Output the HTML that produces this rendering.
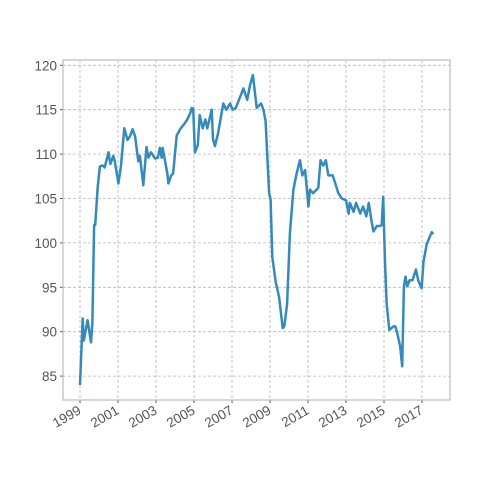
<!DOCTYPE html>
<html><head><meta charset="utf-8"><style>
body{margin:0;background:#fff;}
svg{display:block;font-family:"Liberation Sans","DejaVu Sans",sans-serif;}
</style></head><body>
<svg id="chart" width="500" height="500" viewBox="0 0 500 500"></svg>
<script>
const years=[1999.0,1999.14,1999.2,1999.4,1999.58,1999.65,1999.74,1999.8,1999.93,2000.05,2000.2,2000.3,2000.5,2000.6,2000.75,2000.83,2001.02,2001.15,2001.33,2001.5,2001.63,2001.77,2001.9,2002.07,2002.15,2002.33,2002.5,2002.6,2002.73,2002.95,2003.1,2003.2,2003.3,2003.35,2003.6,2003.65,2003.8,2003.9,2004.09,2004.3,2004.45,2004.62,2004.8,2004.88,2004.96,2005.05,2005.2,2005.3,2005.46,2005.6,2005.7,2005.93,2006.0,2006.1,2006.25,2006.54,2006.7,2006.9,2007.03,2007.2,2007.4,2007.6,2007.8,2007.95,2008.1,2008.3,2008.53,2008.65,2008.77,2008.95,2009.03,2009.12,2009.3,2009.48,2009.67,2009.75,2009.9,2010.05,2010.23,2010.4,2010.58,2010.7,2010.85,2011.02,2011.1,2011.27,2011.54,2011.66,2011.8,2011.94,2012.07,2012.3,2012.6,2012.78,2013.0,2013.14,2013.2,2013.4,2013.53,2013.75,2013.9,2014.07,2014.2,2014.33,2014.44,2014.62,2014.8,2014.88,2014.96,2015.05,2015.14,2015.28,2015.5,2015.6,2015.73,2015.85,2015.96,2016.05,2016.13,2016.22,2016.35,2016.5,2016.68,2016.8,2016.98,2017.08,2017.25,2017.51,2017.6];
const values=[84.0,91.5,89.0,91.3,88.8,91.0,102.0,102.0,106.3,108.6,108.7,108.5,110.2,108.9,109.8,109.2,106.7,108.6,112.9,111.6,112.0,112.8,112.0,109.2,109.8,106.5,110.8,109.6,110.2,109.5,109.6,110.7,109.6,110.7,107.8,106.7,107.6,107.8,112.1,112.9,113.3,113.8,114.6,115.2,115.1,110.2,111.0,114.4,112.9,113.9,112.9,115.0,111.7,110.9,112.2,115.7,115.0,115.7,115.0,115.2,116.3,117.4,116.1,117.8,118.9,115.2,115.7,115.0,113.7,105.6,104.9,98.4,95.6,93.9,90.4,90.6,93.1,101.1,106.0,107.8,109.3,107.6,108.2,104.1,106.0,105.6,106.2,109.3,108.7,109.3,107.6,107.6,105.6,105.0,104.8,103.3,104.5,103.5,104.5,103.3,104.1,103.0,104.5,102.6,101.3,101.9,101.9,102.0,105.2,98.1,93.1,90.2,90.6,90.6,89.5,88.4,86.1,95.1,96.2,95.1,95.8,95.8,97.0,95.8,94.9,97.9,99.9,101.2,101.0];
const yTicks=[85,90,95,100,105,110,115,120];
const xTicks=[1999,2001,2003,2005,2007,2009,2011,2013,2015,2017];

const L=63,R=450,T=60,B=400;
const X=v=>80+(v-1999)*19.0;
const Y=v=>65.3+(120-v)*8.88;
const svg=document.getElementById('chart');
const NS='http://www.w3.org/2000/svg';
function mk(tag,attrs,parent){const e=document.createElementNS(NS,tag);for(const k in attrs)e.setAttribute(k,attrs[k]);(parent||svg).appendChild(e);return e;}

const bg=mk('rect',{x:L,y:T,width:R-L,height:B-T,fill:'#fff'});



yTicks.forEach(t=>{
  const y=Y(t);
  const g=mk('line',{x1:L,x2:R,y1:y,y2:y,stroke:'#b8b8b8','stroke-width':0.8,'stroke-dasharray':'3,2'});
  
  
  mk('line',{x1:L-3,x2:L,y1:y,y2:y,stroke:'#555','stroke-width':1});
  const tx=mk('text',{x:L-6,y:y+5,'text-anchor':'end','font-size':13.5,fill:'#555'});
  tx.textContent=t;
  
  
});
xTicks.forEach(t=>{
  const x=X(t);
  const g=mk('line',{x1:x,x2:x,y1:T,y2:B,stroke:'#b8b8b8','stroke-width':0.8,'stroke-dasharray':'3,2'});
  
  
  mk('line',{x1:x,x2:x,y1:B,y2:B+3,stroke:'#555','stroke-width':1});
  const tx=mk('text',{x:x+2,y:B+13,'text-anchor':'end','font-size':13.5,fill:'#555',transform:`rotate(-30 ${x+2} ${B+13})`});
  tx.textContent=t;
  
  
});
const fr=mk('rect',{x:L,y:T,width:R-L,height:B-T,fill:'none',stroke:'#bcbcbc','stroke-width':1.2});



const d=years.map((yr,i)=>(i?'L':'M')+X(yr).toFixed(1)+','+Y(values[i]).toFixed(1)).join('');
const p=mk('path',{d:d,fill:'none',stroke:'#348abd','stroke-width':2.5,'stroke-linejoin':'round'});


</script>
</body></html>
